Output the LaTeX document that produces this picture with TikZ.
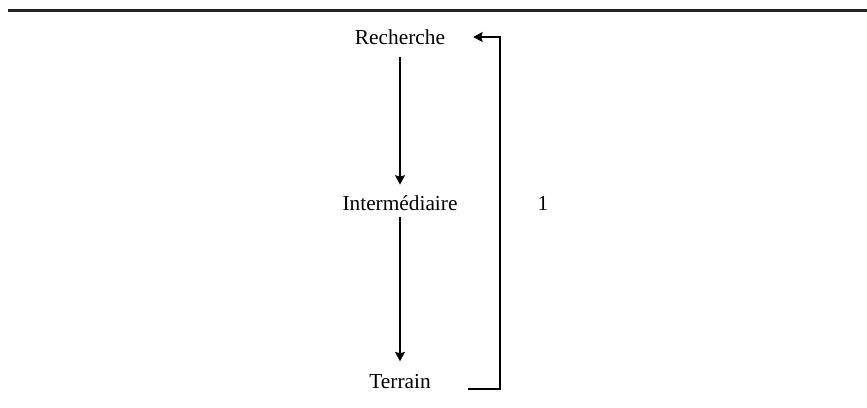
\documentclass[tikz,border=0pt]{standalone}
\usepackage{fontspec}
\setmainfont{Liberation Serif}
\usetikzlibrary{arrows.meta}
\tikzset{
  level/.style={font=\fontsize{16}{19}\selectfont, inner sep=3pt},
  flow/.style={line width=0.8pt, -{Stealth[length=7pt,width=7.5pt,inset=1pt]}},
  loop/.style={line width=1.2pt, -{Stealth[length=7pt,width=7.5pt,inset=1pt]}}
}
\begin{document}
\begin{tikzpicture}[x=0.75pt,y=-0.75pt] % levels of the transfer

\def\W{867} % picture width
\def\H{407} % picture height
\useasboundingbox (0,0) rectangle (\W,\H);
\draw[line width=2.3pt, black!85] (8,10.5) -- (\W,10.5);

\node[level] (rech) at (400,37) {Recherche};
\node[level] (inter) at (400,203) {Intermédiaire};
\node[level] (terr) at (400,382) {Terrain};
\node[level] (un) at (543,203) {1};

\draw[flow, shorten <=6.5pt, shorten >=5pt] (rech) -- (inter);
\draw[flow, shorten <=2pt, shorten >=7pt] (inter) -- (terr);

% feedback bracket
\coordinate (bot) at (468,389);
\coordinate (side) at (500,389);
\draw[loop, shorten >=18pt] (bot) -- (side) |- (rech.east);
%\draw (inter) -- (un);
\end{tikzpicture}
\end{document}
